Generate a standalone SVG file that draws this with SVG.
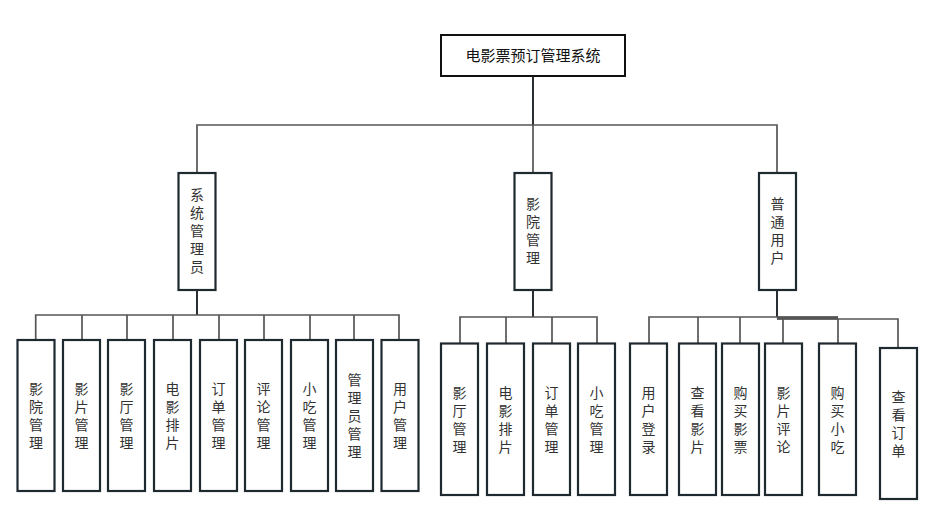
<svg xmlns="http://www.w3.org/2000/svg" width="927" height="516" viewBox="0 0 927 516">
<style>
.box{fill:#fff;stroke:#1f2930;stroke-width:2.2}
.top{fill:#fff;stroke:#111;stroke-width:2}
.t{font-family:"Noto Sans CJK SC","Liberation Sans",sans-serif;font-size:14px;fill:#333;text-anchor:middle;writing-mode:vertical-rl;letter-spacing:4px}
.tt{font-family:"Noto Sans CJK SC","Liberation Sans",sans-serif;font-size:15px;fill:#111;text-anchor:middle}
.c{fill:none;stroke:#555;stroke-width:1.7}
.cd{fill:none;stroke:#2a2f33;stroke-width:2}
</style>
<rect width="927" height="516" fill="#fff"/>
<g id="connectors">
<path class="cd" d="M533 76V125"/>
<path class="c" d="M197 173V125H777V173M533 125V173"/>
<path class="cd" d="M197 290V315M533 290V317M777 290V317"/>
<path class="c" d="M35.7 340V315H399V340M82 315V340M127 315V340M173 315V340M219 315V340M264 315V340M310 315V340M354 315V340"/>
<path class="c" d="M460 343V317H597V343M506 317V343M552 317V343"/>
<path class="c" d="M649 343V317H838M698 317V343M740 317V343"/>
<path class="c" d="M777 319H898V347M783 319V343M838 319V343"/>
<path d="M777 318H838" stroke="#555" stroke-width="3" fill="none"/>
</g>
<g id="root"><rect class="top" x="441" y="35" width="184" height="41"/><text class="tt" x="533" y="61">电影票预订管理系统</text></g>
<g id="n-admin"><rect class="box" x="178.5" y="173" width="37" height="117"/><text class="t" x="197" y="233">系统管理员</text></g>
<g id="n-cinema"><rect class="box" x="514.5" y="173" width="37" height="117"/><text class="t" x="533" y="233">影院管理</text></g>
<g id="n-user"><rect class="box" x="759" y="173" width="37" height="117"/><text class="t" x="777.5" y="233">普通用户</text></g>
<g id="a1"><rect class="box" x="17.5" y="340" width="37" height="151"/><text class="t" x="36" y="418">影院管理</text></g>
<g id="a2"><rect class="box" x="63" y="340" width="37" height="151"/><text class="t" x="81.5" y="418">影片管理</text></g>
<g id="a3"><rect class="box" x="108" y="340" width="37" height="151"/><text class="t" x="126.5" y="418">影厅管理</text></g>
<g id="a4"><rect class="box" x="154" y="340" width="37" height="151"/><text class="t" x="172.5" y="418">电影排片</text></g>
<g id="a5"><rect class="box" x="200" y="340" width="37" height="151"/><text class="t" x="218.5" y="418">订单管理</text></g>
<g id="a6"><rect class="box" x="245" y="340" width="37" height="151"/><text class="t" x="263.5" y="418">评论管理</text></g>
<g id="a7"><rect class="box" x="291" y="340" width="37" height="151"/><text class="t" x="309.5" y="418">小吃管理</text></g>
<g id="a8"><rect class="box" x="336" y="340" width="37" height="151"/><text class="t" x="354.5" y="418">管理员管理</text></g>
<g id="a9"><rect class="box" x="381.5" y="340" width="37" height="151"/><text class="t" x="400" y="418">用户管理</text></g>
<g id="b1"><rect class="box" x="441" y="343.5" width="37" height="151.5"/><text class="t" x="459.5" y="422">影厅管理</text></g>
<g id="b2"><rect class="box" x="487" y="343.5" width="37" height="151.5"/><text class="t" x="505.5" y="422">电影排片</text></g>
<g id="b3"><rect class="box" x="533" y="343.5" width="37" height="151.5"/><text class="t" x="551.5" y="422">订单管理</text></g>
<g id="b4"><rect class="box" x="578" y="343.5" width="37" height="151.5"/><text class="t" x="596.5" y="422">小吃管理</text></g>
<g id="c1"><rect class="box" x="630" y="343.5" width="37" height="151.5"/><text class="t" x="648.5" y="422">用户登录</text></g>
<g id="c2"><rect class="box" x="679" y="343.5" width="37" height="151.5"/><text class="t" x="697.5" y="422">查看影片</text></g>
<g id="c3"><rect class="box" x="722" y="343.5" width="37" height="151.5"/><text class="t" x="740.5" y="422">购买影票</text></g>
<g id="c4"><rect class="box" x="765" y="343.5" width="37" height="151.5"/><text class="t" x="783.5" y="422">影片评论</text></g>
<g id="c5"><rect class="box" x="819" y="343.5" width="37" height="151.5"/><text class="t" x="837.5" y="422">购买小吃</text></g>
<g id="c6"><rect class="box" x="880" y="348" width="37" height="151"/><text class="t" x="898.5" y="426">查看订单</text></g>
</svg>
